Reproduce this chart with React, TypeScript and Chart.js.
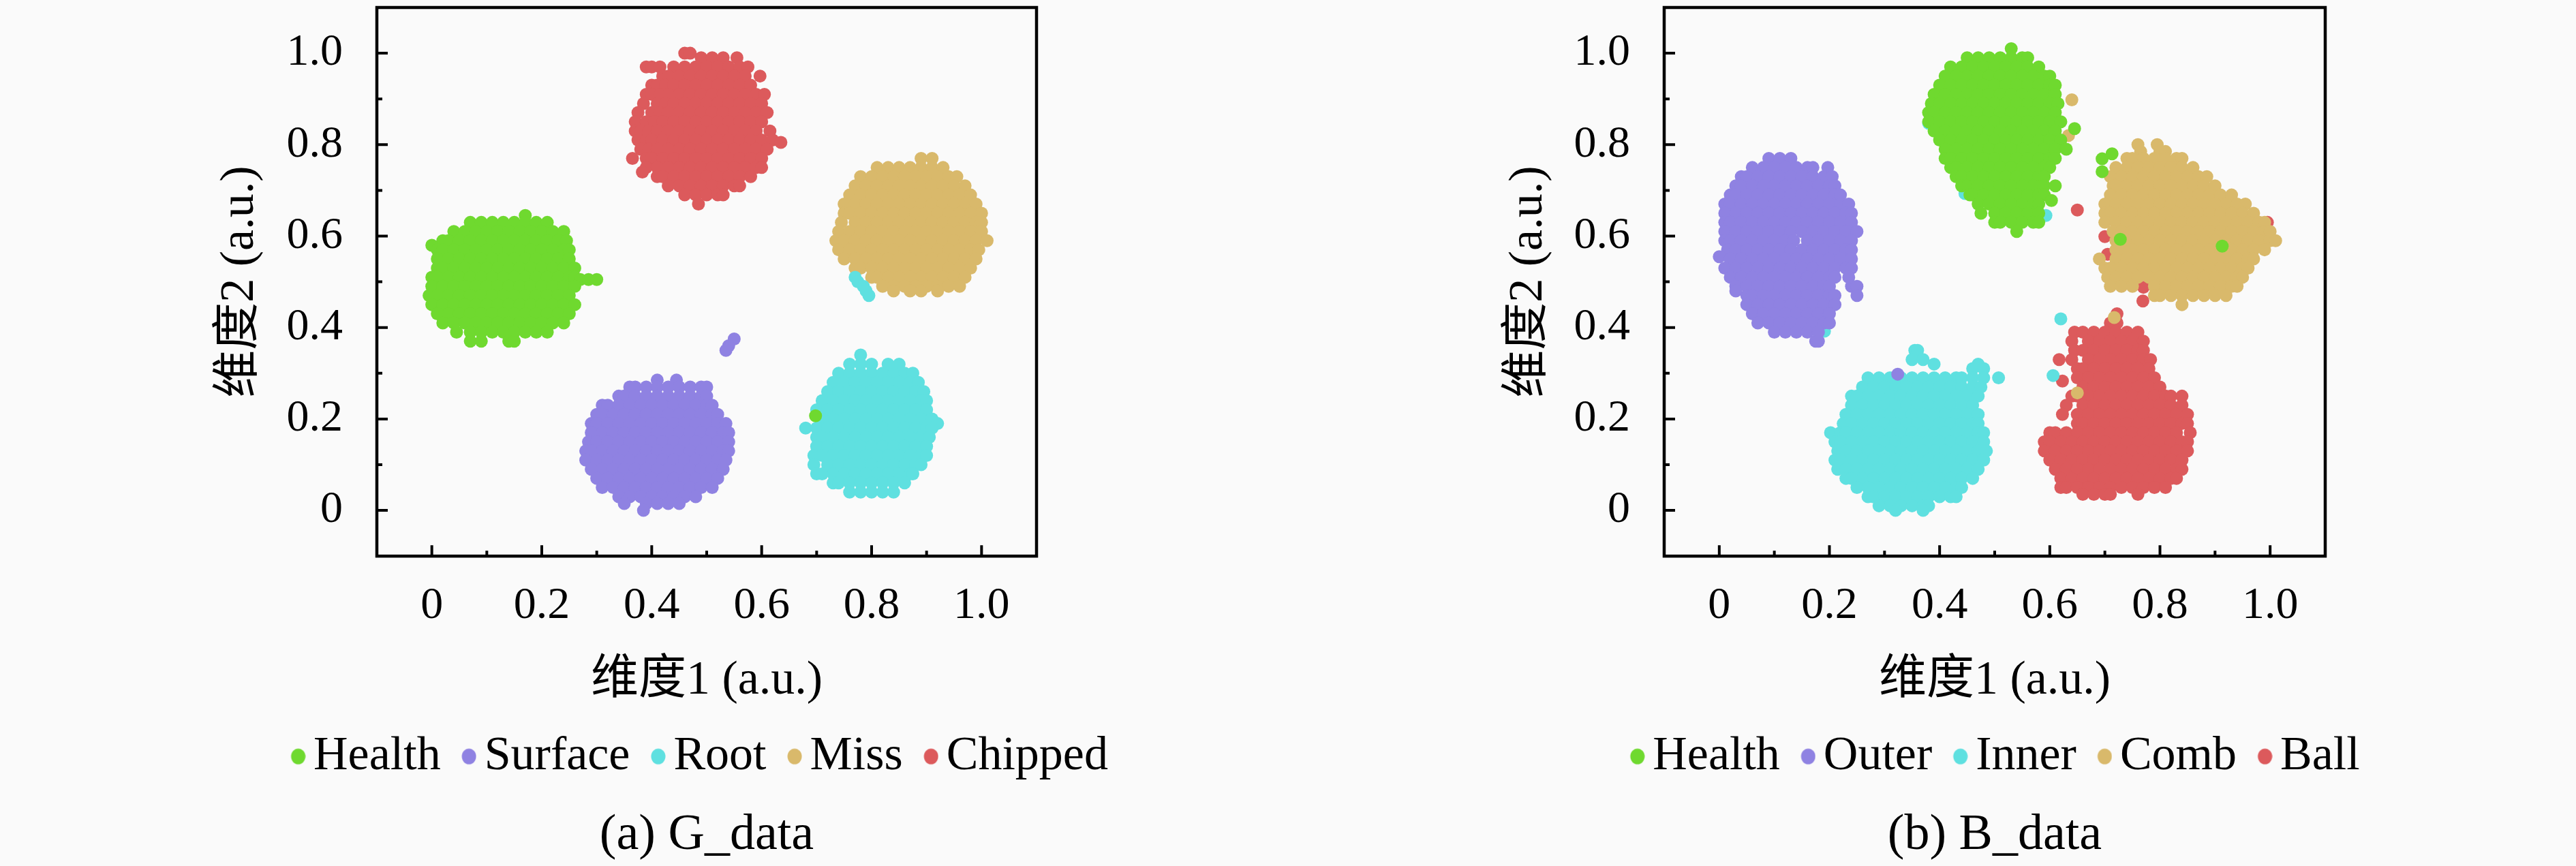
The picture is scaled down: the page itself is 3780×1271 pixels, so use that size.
import React, { useEffect, useRef } from "react";
import { Chart, registerables } from "chart.js";

Chart.register(...registerables);

// Every row is [y, x, x, x, ...]: points, blob by blob.
const gHealth = [
  [.645,.17],
  [.63,.07,.09,.11,.13,.15,.17,.19,.21],
  [.61,.04,.06,.08,.10,.12,.14,.16,.18,.20,.22,.24],
  [.59,.02,.03,.05,.07,.09,.11,.13,.15,.17,.19,.21,.23,.245],
  [.58,.0],
  [.57,.01,.02,.04,.06,.08,.10,.12,.14,.16,.18,.20,.22,.24,.25],
  [.55,.01,.03,.05,.07,.09,.11,.13,.15,.17,.19,.21,.23,.25],
  [.53,.01,.02,.04,.06,.08,.10,.12,.14,.16,.18,.20,.22,.24,.26],
  [.51,.0,.01,.03,.05,.07,.09,.11,.13,.15,.17,.19,.21,.23,.25,.26],
  [.505,.27,.285,.30],
  [.49,.0,.02,.04,.06,.08,.10,.12,.14,.16,.18,.20,.22,.24,.26],
  [.47,-.005,.01,.03,.05,.07,.09,.11,.13,.15,.17,.19,.21,.23,.25],
  [.45,.0,.02,.04,.06,.08,.10,.12,.14,.16,.18,.20,.22,.24,.26],
  [.43,.01,.03,.05,.07,.09,.11,.13,.15,.17,.19,.21,.23,.25],
  [.41,.02,.04,.06,.08,.10,.12,.14,.16,.18,.20,.22,.24],
  [.39,.045,.07,.09,.11,.13,.15,.17,.19,.21],
  [.37,.07,.09,.14,.15],
  [.207,.698],
];
const gSurface = [
  [.375,.55],[.36,.54],[.35,.535],
  [.285,.41,.445],
  [.27,.36,.37,.39,.41,.43,.45,.47,.49,.50],
  [.25,.34,.35,.37,.39,.41,.43,.45,.47,.49,.5],
  [.23,.31,.32,.34,.36,.38,.40,.42,.44,.46,.48,.50,.51],
  [.21,.30,.31,.33,.35,.37,.39,.41,.43,.45,.47,.49,.51,.52],
  [.19,.29,.30,.32,.34,.36,.38,.40,.42,.44,.46,.48,.50,.52,.535],
  [.17,.29,.31,.33,.35,.37,.39,.41,.43,.45,.47,.49,.51,.53,.54],
  [.15,.285,.30,.32,.34,.36,.38,.40,.42,.44,.46,.48,.50,.52,.54],
  [.13,.28,.29,.31,.33,.35,.37,.39,.41,.43,.45,.47,.49,.51,.53,.54],
  [.11,.28,.30,.32,.34,.36,.38,.40,.42,.44,.46,.48,.50,.52,.535],
  [.09,.29,.31,.33,.35,.37,.39,.41,.43,.45,.47,.49,.51,.53],
  [.07,.30,.32,.34,.36,.38,.40,.42,.44,.46,.48,.50,.52],
  [.05,.31,.33,.35,.37,.39,.41,.43,.45,.47,.49,.51],
  [.03,.34,.36,.38,.40,.42,.44,.46,.48],
  [.015,.35,.39,.41,.43,.45],
  [.0,.385],
];
const gRoot = [
  [.51,.77],[.50,.775],[.49,.785],[.48,.79],[.47,.795],
  [.34,.78],
  [.32,.76,.78,.80,.83,.85],
  [.30,.74,.76,.78,.80,.82,.84,.86,.875],
  [.28,.73,.75,.77,.79,.81,.83,.85,.87,.885],
  [.26,.72,.74,.76,.78,.80,.82,.84,.86,.88,.895],
  [.24,.71,.73,.75,.77,.79,.81,.83,.85,.87,.89,.90],
  [.22,.70,.72,.74,.76,.78,.80,.82,.84,.86,.88,.90],
  [.20,.71,.73,.75,.77,.79,.81,.83,.85,.87,.89,.91],
  [.19,.92],
  [.18,.68,.70,.72,.74,.76,.78,.80,.82,.84,.86,.88,.90,.91],
  [.16,.70,.71,.73,.75,.77,.79,.81,.83,.85,.87,.89,.905],
  [.14,.70,.72,.74,.76,.78,.80,.82,.84,.86,.88,.90],
  [.12,.695,.71,.73,.75,.77,.79,.81,.83,.85,.87,.89,.90],
  [.10,.695,.72,.74,.76,.78,.80,.82,.84,.86,.88,.89],
  [.08,.70,.71,.73,.75,.77,.79,.81,.83,.85,.87,.875],
  [.06,.73,.74,.76,.78,.80,.82,.84,.86],
  [.04,.76,.78,.80,.82,.84],
];
const gMiss = [
  [.77,.89,.91],
  [.75,.81,.83,.85,.87,.89,.91,.93],
  [.73,.78,.80,.82,.84,.86,.88,.90,.92,.94,.955],
  [.71,.77,.79,.81,.83,.85,.87,.89,.91,.93,.95,.97],
  [.69,.76,.78,.80,.82,.84,.86,.88,.90,.92,.94,.96,.98],
  [.67,.75,.77,.79,.81,.83,.85,.87,.89,.91,.93,.95,.97,.99],
  [.65,.75,.76,.78,.80,.82,.84,.86,.88,.90,.92,.94,.96,.98,1.0],
  [.63,.745,.77,.79,.81,.83,.85,.87,.89,.91,.93,.95,.97,.99,1.0],
  [.61,.74,.76,.78,.80,.82,.84,.86,.88,.90,.92,.94,.96,.98,1.0],
  [.59,.735,.75,.77,.79,.81,.83,.85,.87,.89,.91,.93,.95,.97,.99,1.01],
  [.57,.74,.76,.78,.80,.82,.84,.86,.88,.90,.92,.94,.96,.98,.995],
  [.55,.75,.77,.79,.81,.83,.85,.87,.89,.91,.93,.95,.97,.99],
  [.53,.77,.78,.80,.82,.84,.86,.88,.90,.92,.94,.96,.98],
  [.51,.80,.81,.83,.85,.87,.89,.91,.93,.95,.97],
  [.49,.82,.84,.86,.88,.90,.92,.94,.96],
  [.48,.84,.87,.89,.92],
];
const gChipped = [
  [1.0,.46,.47],
  [.99,.49,.51,.53,.555],
  [.97,.39,.40,.415,.44,.46,.48,.50,.52,.54,.56,.575],
  [.95,.42,.43,.45,.47,.49,.51,.53,.55,.57,.597],
  [.93,.40,.41,.425,.44,.46,.48,.50,.52,.54,.56,.58],
  [.91,.39,.40,.415,.43,.45,.47,.49,.51,.53,.55,.57,.59,.605],
  [.89,.385,.41,.425,.44,.46,.48,.50,.52,.54,.56,.58,.60],
  [.87,.375,.40,.415,.43,.45,.47,.49,.51,.53,.55,.57,.59,.61],
  [.85,.37,.39,.405,.42,.44,.46,.48,.50,.52,.54,.56,.58,.60],
  [.83,.37,.38,.395,.41,.43,.45,.47,.49,.51,.53,.55,.57,.59,.615],
  [.81,.375,.39,.40,.42,.44,.46,.48,.50,.52,.54,.56,.58,.60,.62],
  [.805,.635],
  [.79,.38,.395,.41,.43,.45,.47,.49,.51,.53,.55,.57,.59,.61],
  [.77,.365,.39,.40,.42,.44,.46,.48,.50,.52,.54,.56,.58,.60],
  [.75,.39,.41,.43,.45,.47,.49,.51,.53,.55,.57,.59,.60],
  [.74,.383],
  [.73,.41,.42,.44,.46,.48,.50,.52,.54,.56,.58],
  [.71,.43,.45,.47,.49,.51,.53,.55,.56],
  [.69,.46,.48,.50,.52,.53],
  [.67,.485],
];

const bHealth = [
  [1.01,.53],
  [.99,.45,.47,.49,.51,.53,.55,.56],
  [.97,.42,.44,.46,.48,.50,.52,.54,.56,.58],
  [.95,.41,.43,.45,.47,.49,.51,.53,.55,.57,.59,.60],
  [.93,.40,.42,.44,.46,.48,.50,.52,.54,.56,.58,.60,.61],
  [.91,.39,.41,.43,.45,.47,.49,.51,.53,.55,.57,.59,.61],
  [.89,.385,.40,.42,.44,.46,.48,.50,.52,.54,.56,.58,.60,.615],
  [.87,.38,.39,.41,.43,.45,.47,.49,.51,.53,.55,.57,.59,.61],
  [.85,.38,.40,.42,.44,.46,.48,.50,.52,.54,.56,.58,.60,.62],
  [.835,.645],
  [.83,.39,.41,.43,.45,.47,.49,.51,.53,.55,.57,.59,.61],
  [.81,.40,.42,.44,.46,.48,.50,.52,.54,.56,.58,.60,.62],
  [.79,.41,.43,.45,.47,.49,.51,.53,.55,.57,.59,.61,.63],
  [.78,.713],[.769,.695],
  [.77,.41,.42,.44,.46,.48,.50,.52,.54,.56,.58,.60,.61],
  [.75,.42,.43,.45,.47,.49,.51,.53,.55,.57,.59,.60],
  [.741,.695],
  [.73,.43,.44,.46,.48,.50,.52,.54,.56,.58,.59],
  [.71,.44,.45,.47,.49,.51,.53,.55,.57,.59,.61],
  [.69,.455,.46,.48,.50,.52,.54,.56,.58,.59],
  [.678,.603],
  [.67,.47,.49,.51,.53,.55,.57,.58],
  [.65,.475,.50,.52,.54,.56,.58],
  [.63,.50,.51,.53,.55,.57,.58],
  [.61,.54],
  [.593,.728],[.578,.913],
];
const bOuter = [
  [.77,.09,.11,.13],
  [.75,.06,.08,.10,.12,.14,.16,.17,.197],
  [.73,.04,.05,.07,.09,.11,.13,.15,.17,.19,.205],
  [.71,.03,.04,.06,.08,.10,.12,.14,.16,.18,.20,.21],
  [.69,.02,.03,.05,.07,.09,.11,.13,.15,.17,.19,.21,.22],
  [.67,.01,.02,.04,.06,.08,.10,.12,.14,.16,.18,.20,.22,.235],
  [.65,.01,.03,.05,.07,.09,.11,.13,.15,.17,.19,.21,.23,.24],
  [.63,.01,.02,.04,.06,.08,.10,.12,.14,.16,.18,.20,.22,.24],
  [.61,.01,.03,.05,.07,.09,.11,.13,.15,.17,.19,.21,.23,.25],
  [.59,.01,.02,.04,.06,.08,.10,.12,.135,.16,.18,.20,.22,.24],
  [.57,.015,.03,.05,.07,.09,.11,.13,.15,.17,.19,.21,.23,.24],
  [.555,.0],
  [.55,.02,.04,.06,.08,.10,.12,.14,.16,.18,.20,.22,.24],
  [.53,.01,.03,.05,.07,.09,.11,.13,.15,.17,.19,.21,.23,.24],
  [.51,.02,.04,.06,.08,.10,.12,.14,.16,.18,.20,.21,.235],
  [.49,.03,.05,.07,.09,.11,.13,.15,.17,.19,.20,.24,.25],
  [.48,.03],
  [.47,.05,.06,.08,.10,.12,.14,.16,.18,.20,.21,.25],
  [.45,.05,.07,.09,.11,.13,.15,.17,.19,.21],
  [.43,.06,.08,.10,.12,.14,.16,.18,.20],
  [.41,.07,.09,.11,.13,.15,.17,.19,.20],
  [.39,.10,.12,.14,.16,.18],
  [.37,.175,.18],
  [.298,.324],
];
const bInner = [
  [.847,.38],[.693,.446],[.645,.593],[.419,.62],[.392,.191],
  [.35,.355,.36],
  [.33,.35,.37],
  [.32,.39,.47],
  [.31,.46,.48],
  [.295,.606],
  [.29,.27,.29,.31,.33,.35,.37,.39,.41,.43,.44,.46,.48,.507],
  [.27,.26,.28,.30,.32,.34,.36,.38,.40,.42,.44,.46,.475],
  [.25,.24,.25,.27,.29,.31,.33,.35,.37,.39,.41,.43,.45,.47],
  [.23,.24,.26,.28,.30,.32,.34,.36,.38,.40,.42,.44,.46],
  [.21,.23,.25,.27,.29,.31,.33,.35,.37,.39,.41,.43,.45,.47],
  [.19,.225,.24,.26,.28,.30,.32,.34,.36,.38,.40,.42,.44,.46,.47],
  [.17,.202,.22,.23,.25,.27,.29,.31,.33,.35,.37,.39,.41,.43,.45,.47,.48],
  [.15,.21,.22,.24,.26,.28,.30,.32,.34,.36,.38,.40,.42,.44,.46,.48],
  [.13,.215,.23,.25,.27,.29,.31,.33,.35,.37,.39,.41,.43,.45,.47,.485],
  [.11,.21,.22,.24,.26,.28,.30,.32,.34,.36,.38,.40,.42,.44,.46,.48],
  [.09,.215,.23,.25,.27,.29,.31,.33,.35,.37,.39,.41,.43,.45,.47],
  [.07,.23,.24,.26,.28,.30,.32,.34,.36,.38,.40,.42,.44,.46],
  [.05,.25,.27,.29,.31,.33,.35,.37,.39,.41,.43,.44],
  [.03,.27,.28,.30,.32,.34,.36,.38,.40,.42,.43],
  [.01,.29,.31,.33,.35,.37,.38],
  [.0,.32,.37],
];
const bComb = [
  [.898,.64],[.82,.634],[.422,.717],[.257,.65],
  [.80,.76,.795],
  [.785,.765,.80,.81],
  [.77,.74,.75,.77,.79,.81,.83,.84],
  [.75,.72,.74,.76,.78,.80,.82,.84,.86],
  [.73,.71,.73,.75,.77,.79,.81,.83,.85,.87,.885],
  [.71,.715,.72,.74,.76,.78,.80,.82,.84,.86,.88,.90],
  [.69,.71,.73,.75,.77,.79,.81,.83,.85,.87,.89,.91,.93],
  [.67,.70,.72,.74,.76,.78,.80,.82,.84,.86,.88,.90,.92,.94,.955],
  [.65,.70,.71,.73,.75,.77,.79,.81,.83,.85,.87,.89,.91,.93,.95,.97],
  [.63,.70,.72,.74,.76,.78,.80,.82,.84,.86,.88,.90,.92,.94,.96,.98,.99],
  [.61,.715,.73,.75,.77,.79,.81,.83,.85,.87,.89,.91,.93,.95,.97,.99,1.0],
  [.59,.72,.74,.76,.78,.80,.82,.84,.86,.88,.90,.92,.94,.96,.98,1.0,1.01],
  [.57,.72,.73,.75,.77,.79,.81,.83,.85,.87,.89,.91,.93,.95,.97,.99],
  [.55,.69,.72,.74,.76,.78,.80,.82,.84,.86,.88,.90,.92,.94,.96,.97],
  [.53,.70,.71,.73,.75,.77,.79,.81,.83,.85,.87,.89,.91,.93,.95,.96],
  [.51,.705,.72,.74,.76,.78,.80,.82,.84,.86,.88,.90,.92,.94,.95],
  [.49,.71,.73,.75,.79,.81,.83,.85,.87,.89,.91,.93,.94],
  [.47,.79,.80,.82,.84,.86,.88,.90,.92],
  [.45,.84],
];
const bBall = [
  [.657,.65],[.63,.995],[.599,.70],[.56,.705],[.488,.77],[.458,.769],
  [.43,.722],[.41,.71,.722],
  [.39,.645,.66,.68,.70,.72,.74,.76],
  [.37,.64,.67,.69,.71,.73,.75,.77],
  [.35,.645,.66,.68,.70,.72,.74,.76,.77],
  [.33,.617,.64,.67,.69,.71,.73,.75,.77,.783],
  [.31,.65,.66,.68,.70,.72,.74,.76,.78],
  [.29,.65,.67,.69,.71,.73,.75,.77,.79],
  [.283,.623],
  [.27,.66,.68,.70,.72,.74,.76,.78,.80],
  [.25,.64,.65,.67,.69,.71,.73,.75,.77,.79,.81,.82,.84],
  [.23,.63,.66,.68,.70,.72,.74,.76,.78,.80,.82,.84],
  [.21,.623,.65,.67,.69,.71,.73,.75,.77,.79,.81,.83,.85],
  [.19,.65,.66,.68,.70,.72,.74,.76,.78,.80,.82,.84,.85],
  [.17,.60,.61,.63,.65,.67,.69,.71,.73,.75,.77,.79,.81,.83,.855],
  [.15,.59,.60,.62,.64,.66,.68,.70,.72,.74,.76,.78,.80,.82,.84,.85],
  [.13,.59,.61,.63,.65,.67,.69,.71,.73,.75,.77,.79,.81,.83,.85],
  [.11,.60,.62,.64,.66,.68,.70,.72,.74,.76,.78,.80,.82,.84],
  [.09,.61,.63,.65,.67,.69,.71,.73,.75,.77,.79,.81,.83,.84],
  [.07,.62,.64,.66,.68,.70,.72,.74,.76,.78,.80,.82,.83],
  [.05,.62,.63,.65,.67,.69,.71,.73,.75,.77,.79,.81],
  [.035,.66,.68,.70,.71,.76],
];

const gLabels = ["Health", "Surface", "Root", "Miss", "Chipped"];
const bLabels = ["Health", "Outer", "Inner", "Comb", "Ball"];
const colors = ["#6fd92f", "#8f82e2", "#5fe0e0", "#d9b96b", "#dc5a5c"];
const tickValues = [0, .1, .2, .3, .4, .5, .6, .7, .8, .9, 1];
const tickLabels = ["0", "", "0.2", "", "0.4", "", "0.6", "", "0.8", "", "1.0"];
const xTitle = "维度1 (a.u.)";
const yTitle = "维度2 (a.u.)";

const SERIF = '"Liberation Serif", "Noto Sans CJK SC", serif';
const toPoints = (rows: number[][]) =>
  rows.flatMap(([y, ...xs]) => xs.map((x) => ({ x, y })));

// Legend marker: a dot that sits to the right of its image, so that it comes
// close to the label the way the reference's does.
const legendDot = (color: string) => {
  const c = document.createElement("canvas");
  c.width = 48;
  c.height = 26;
  const g = c.getContext("2d")!;
  g.fillStyle = color;
  g.beginPath();
  g.ellipse(37, 13, 10.5, 11.5, 0, 0, Math.PI * 2);
  g.fill();
  return c;
};

const frameAndTicks = {
  id: "frameAndTicks",
  afterDraw(chart: any) {
    const { ctx, chartArea: a, scales } = chart;
    ctx.save();
    ctx.strokeStyle = "#000";
    ctx.lineWidth = 4.5;
    ctx.strokeRect(a.left, a.top, a.right - a.left, a.bottom - a.top);
    ctx.lineWidth = 4;
    tickValues.forEach((v, i) => {
      const len = i % 2 === 0 ? 16 : 8;
      const px = scales.x.getPixelForValue(v);
      const py = scales.y.getPixelForValue(v);
      ctx.beginPath();
      ctx.moveTo(px, a.bottom);
      ctx.lineTo(px, a.bottom - len);
      ctx.moveTo(a.left, py);
      ctx.lineTo(a.left + len, py);
      ctx.stroke();
    });
    ctx.restore();
  },
};

const noMargins = (s: any) => {
  s.paddingLeft = s.paddingRight = s.paddingTop = s.paddingBottom = 0;
};

const scaleOptions = (title: string, pad: number, size: number, titlePad: number) => ({
  type: "linear" as const,
  min: -0.1,
  max: 1.1,
  afterBuildTicks: (s: any) => {
    s.ticks = tickValues.map((value) => ({ value }));
  },
  afterFit: (s: any) => {
    if (s.isHorizontal()) s.height = size;
    else s.width = size;
    noMargins(s);
  },
  grid: { display: false, drawTicks: false },
  border: { display: false },
  ticks: {
    autoSkip: false,
    maxRotation: 0,
    padding: pad,
    color: "#000",
    font: { family: SERIF, size: 66 },
    callback: (v: any) => tickLabels[tickValues.findIndex((t) => Math.abs(t - v) < 1e-6)] ?? "",
  },
  title: {
    display: true,
    text: title,
    color: "#000",
    padding: titlePad,
    font: { family: SERIF, size: 70, lineHeight: 1.2 },
  },
});

function Panel(props: {
  left: number; width: number; paddingRight: number; yAxisWidth: number;
  caption: string; labels: string[]; series: number[][][];
}) {
  const ref = useRef<HTMLCanvasElement>(null);
  useEffect(() => {
    const chart = new Chart(ref.current!, {
      type: "scatter",
      data: {
        datasets: props.series.map((rows, i) => ({
          label: props.labels[i],
          data: toPoints(rows),
          backgroundColor: colors[i],
          borderWidth: 0,
          pointRadius: 9.5,
          pointHoverRadius: 9.5,
        })),
      },
      plugins: [frameAndTicks],
      options: {
        animation: false,
        responsive: false,
        devicePixelRatio: 1,
        layout: { padding: { top: 11, right: 0, bottom: 0, left: 0 } },
        scales: {
          x: scaleOptions(xTitle, 34, 231, 6),
          y: scaleOptions(yTitle, 50, props.yAxisWidth, 0),
          // Empty axis that only keeps the room to the right of the plot.
          rightRoom: {
            type: "linear",
            position: "right",
            display: true,
            grid: { display: false, drawTicks: false },
            border: { display: false },
            ticks: { display: false },
            afterFit: (s: any) => {
              s.width = props.paddingRight;
              noMargins(s);
            },
          },
        },
        plugins: {
          tooltip: { enabled: false },
          legend: {
            position: "bottom",
            labels: {
              usePointStyle: true,
              pointStyleWidth: 1,
              padding: 28,
              color: "#000",
              font: { family: SERIF, size: 70 },
              generateLabels: () =>
                props.labels.map((text, i) => ({
                  text,
                  datasetIndex: i,
                  pointStyle: legendDot(colors[i]),
                  fontColor: "#000",
                  lineWidth: 0,
                })),
            },
          },
          title: {
            display: true,
            text: props.caption,
            position: "bottom",
            fullSize: false,
            color: "#000",
            padding: { top: 27, bottom: 0 },
            font: { family: SERIF, size: 74, weight: "normal", lineHeight: 1.2 },
          },
        },
      } as any,
    });
    return () => chart.destroy();
  }, []);
  return (
    <canvas
      ref={ref}
      width={props.width}
      height={1271}
      style={{ position: "absolute", left: props.left, top: 0, width: props.width, height: 1271 }}
    />
  );
}

export default function App() {
  useEffect(() => {
    document.body.style.margin = "0";
  }, []);
  return (
    <div style={{ position: "relative", width: 3780, height: 1271, background: "#fafafa", overflow: "hidden" }}>
      <Panel left={311} width={1428} paddingRight={218} yAxisWidth={242}
        caption="(a) G_data" labels={gLabels}
        series={[gHealth, gSurface, gRoot, gMiss, gChipped]} />
      <Panel left={2202} width={1448} paddingRight={238} yAxisWidth={240}
        caption="(b) B_data" labels={bLabels}
        series={[bHealth, bOuter, bInner, bComb, bBall]} />
    </div>
  );
}
